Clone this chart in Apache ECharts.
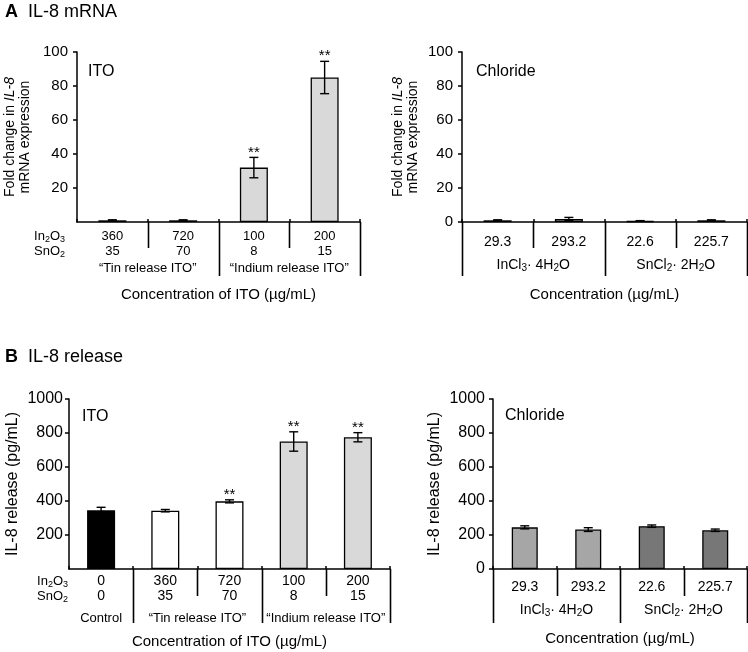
<!DOCTYPE html>
<html><head><meta charset="utf-8">
<script src="https://cdn.jsdelivr.net/npm/echarts@6/dist/echarts.min.js"></script>
<style>html,body{margin:0;padding:0;background:#fff}#c{width:748px;height:652px}</style>
</head><body><div id="c"></div>
<script>
// ---------------- data ----------------
// Panel A: IL-8 mRNA, ITO
const aItoIn2O3 = ['360', '720', '100', '200'];
const aItoSnO2  = ['35', '70', '8', '15'];
const aItoMean  = [1.0, 1.0, 32, 85];
const aItoErr   = [0.3, 0.3, 6, 9.5];
const aItoSig   = ['', '', '**', '**'];
const aItoKind  = ['tin', 'tin', 'indium', 'indium'];
const aItoGroups = [['“Tin release ITO”', 0, 1], ['“Indium release ITO”', 2, 3]];

// Panel A: IL-8 mRNA, Chloride
const aClConc  = ['29.3', '293.2', '22.6', '225.7'];
const aClMean  = [1.0, 1.8, 0.6, 1.0];
const aClErr   = [0.3, 0.9, 0.2, 0.3];
const aClSig   = ['', '', '', ''];
const aClKind  = ['incl', 'incl', 'sncl', 'sncl'];
const aClGroups = [['InCl{s|3}· 4H{s|2}O', 0, 1], ['SnCl{s|2}· 2H{s|2}O', 2, 3]];

// Panel B: IL-8 release, ITO
const bItoIn2O3 = ['0', '360', '720', '100', '200'];
const bItoSnO2  = ['0', '35', '70', '8', '15'];
const bItoMean  = [345, 343, 398, 750, 775];
const bItoErr   = [18, 7, 9, 57, 27];
const bItoSig   = ['', '', '**', '**', '**'];
const bItoKind  = ['control', 'tin', 'tin', 'indium', 'indium'];
const bItoGroups = [['Control', 0, 0], ['“Tin release ITO”', 1, 2], ['“Indium release ITO”', 3, 4]];

// Panel B: IL-8 release, Chloride
const bClConc  = ['29.3', '293.2', '22.6', '225.7'];
const bClMean  = [245, 232, 252, 228];
const bClErr   = [9, 11, 7, 7];
const bClSig   = ['', '', '', ''];
const bClKind  = ['incl', 'incl', 'sncl', 'sncl'];
const bClGroups = [['InCl{s|3}· 4H{s|2}O', 0, 1], ['SnCl{s|2}· 2H{s|2}O', 2, 3]];

// ---------------- styling / layout ----------------
const FONT = '"Liberation Sans", Arial, Helvetica, sans-serif';
const INK = '#000';
const colorOf = { control: '#000000', tin: '#ffffff', indium: '#d9d9d9', incl: '#a6a6a6', sncl: '#777777' };
const subRich = (fs) => ({
  n: { fontSize: fs, fontFamily: FONT, color: INK },
  s: { fontSize: Math.round(fs * 0.7), fontFamily: FONT, color: INK, padding: [7, 0, 0, 0] }
});

const panels = [
  { cats: aItoIn2O3.map((v, i) => v + '\n' + aItoSnO2[i]), mean: aItoMean, err: aItoErr, sig: aItoSig, kind: aItoKind, groups: aItoGroups,
    seps: [null, 's', 'l', 's', 'l'], sepS: 26, sepL: 54, groupDy: 46, groupFs: 13,
    grid: { left: 77, top: 52, width: 283, height: 170 }, yMax: 100, yInt: 20, showZero: false, tickFs: 15, tickMargin: 9,
    catFs: 13, catMargin: 7, barWidth: 28,
    yName: '{n|Fold change in }{i|IL-8}\n{n|mRNA expression}', yNameFs: 14, yNameGap: 44,
    xName: 'Concentration of ITO (µg/mL)', xNameGap: 65,
    inner: 'ITO', innerDx: 11, innerDy: 20, rowHead: { right: 65, dy1: 14, dy2: 29 } },
  { cats: aClConc, mean: aClMean, err: aClErr, sig: aClSig, kind: aClKind, groups: aClGroups,
    seps: ['l', 's', 'l', 's', 'l'], sepS: 26, sepL: 54, groupDy: 43, groupFs: 14,
    grid: { left: 462, top: 52, width: 285, height: 170 }, yMax: 100, yInt: 20, showZero: true, tickFs: 15, tickMargin: 9,
    catFs: 14, catMargin: 13, barWidth: 28,
    yName: '{n|Fold change in }{i|IL-8}\n{n|mRNA expression}', yNameFs: 14, yNameGap: 41,
    xName: 'Concentration (µg/mL)', xNameGap: 65,
    inner: 'Chloride', innerDx: 14, innerDy: 20, rowHead: null },
  { cats: bItoIn2O3.map((v, i) => v + '\n' + bItoSnO2[i]), mean: bItoMean, err: bItoErr, sig: bItoSig, kind: bItoKind, groups: bItoGroups,
    seps: [null, 'l', 's', 'l', 's', 'l'], sepS: 27, sepL: 54, groupDy: 49, groupFs: 13,
    grid: { left: 69, top: 399, width: 321, height: 170 }, yMax: 1000, yInt: 200, showZero: false, tickFs: 16, tickMargin: 6,
    catFs: 14, catMargin: 5, barWidth: 28,
    yName: 'IL-8 release (pg/mL)', yNameFs: 16, yNameGap: 49,
    xName: 'Concentration of ITO (µg/mL)', xNameGap: 65,
    inner: 'ITO', innerDx: 13, innerDy: 18, rowHead: { right: 68, dy1: 12, dy2: 27 } },
  { cats: bClConc, mean: bClMean, err: bClErr, sig: bClSig, kind: bClKind, groups: bClGroups,
    seps: ['l', 's', 'l', 's', 'l'], sepS: 27, sepL: 54, groupDy: 41, groupFs: 14,
    grid: { left: 493, top: 399, width: 254, height: 170 }, yMax: 1000, yInt: 200, showZero: true, tickFs: 16, tickMargin: 8,
    catFs: 14, catMargin: 11, barWidth: 26,
    yName: 'IL-8 release (pg/mL)', yNameFs: 16, yNameGap: 51,
    xName: 'Concentration (µg/mL)', xNameGap: 62,
    inner: 'Chloride', innerDx: 12, innerDy: 17, rowHead: null }
];

const panelTitles = [
  { letter: 'A', text: 'IL-8 mRNA', y: 12 },
  { letter: 'B', text: 'IL-8 release', y: 357 }
];

// ---------------- option ----------------
const chart = echarts.init(document.getElementById('c'), null, { renderer: 'canvas' });

const option = {
  animation: false,
  backgroundColor: '#fff',
  grid: panels.map(p => Object.assign({ containLabel: false }, p.grid)),
  xAxis: panels.map((p, i) => ({
    type: 'category', gridIndex: i, data: p.cats, boundaryGap: true,
    axisLine: { show: true, lineStyle: { color: INK, width: 1.5 } },
    axisTick: { show: true, inside: true, length: 3, interval: 0, alignWithLabel: false, lineStyle: { color: INK, width: 1.5 } },
    axisLabel: { show: true, interval: 0, margin: p.catMargin, color: INK, fontFamily: FONT, fontSize: p.catFs, lineHeight: 15 },
    name: p.xName, nameLocation: 'middle', nameGap: p.xNameGap,
    nameTextStyle: { color: INK, fontFamily: FONT, fontSize: 15 }
  })),
  yAxis: panels.map((p, i) => ({
    type: 'value', gridIndex: i, min: 0, max: p.yMax, interval: p.yInt,
    axisLine: { show: true, lineStyle: { color: INK, width: 1.5 } },
    axisTick: { show: true, inside: false, length: 4, lineStyle: { color: INK, width: 1.5 } },
    splitLine: { show: false },
    axisLabel: { color: INK, fontFamily: FONT, fontSize: p.tickFs, margin: p.tickMargin, showMinLabel: p.showZero,
      formatter: (v) => String(v) },
    name: p.yName, nameLocation: 'middle', nameRotate: 90, nameGap: p.yNameGap,
    nameTextStyle: {
      color: INK, fontFamily: FONT, fontSize: p.yNameFs, lineHeight: 15,
      rich: {
        n: { fontSize: p.yNameFs, fontFamily: FONT, color: INK, lineHeight: 15 },
        i: { fontSize: p.yNameFs, fontFamily: FONT, color: INK, fontStyle: 'italic', lineHeight: 15 }
      }
    }
  })),
  series: []
};

panels.forEach((p, i) => {
  option.series.push({
    type: 'bar', xAxisIndex: i, yAxisIndex: i, barWidth: p.barWidth, z: 2,
    data: p.mean.map((v, k) => ({ value: v, itemStyle: { color: colorOf[p.kind[k]], borderColor: INK, borderWidth: 1.3 } }))
  });
  option.series.push({
    type: 'custom', xAxisIndex: i, yAxisIndex: i, z: 5,
    data: p.mean.map((v, k) => [k, v - p.err[k], v + p.err[k]]),
    renderItem: (params, api) => {
      const k = api.value(0);
      const top = api.coord([k, api.value(2)]);
      const bot = api.coord([k, api.value(1)]);
      const hw = 4.5;
      const st = { stroke: INK, lineWidth: 1.4 };
      const children = [
        { type: 'line', shape: { x1: top[0], y1: top[1], x2: bot[0], y2: bot[1] }, style: st },
        { type: 'line', shape: { x1: top[0] - hw, y1: top[1], x2: top[0] + hw, y2: top[1] }, style: st },
        { type: 'line', shape: { x1: bot[0] - hw, y1: bot[1], x2: bot[0] + hw, y2: bot[1] }, style: st }
      ];
      const s = p.sig[params.dataIndex];
      if (s) {
        children.push({ type: 'text', x: top[0], y: top[1] - 5,
          style: { text: s, fill: INK, fontSize: 15, fontFamily: FONT, align: 'center', verticalAlign: 'middle' } });
      }
      return { type: 'group', children };
    }
  });
});

chart.setOption(option);

// ---------------- annotations placed via the axes ----------------
const graphics = [];
const lineStyle = { stroke: INK, lineWidth: 1.6 };
panels.forEach((p, gi) => {
  const c0 = chart.convertToPixel({ gridIndex: gi }, [0, 0]);
  const c1 = chart.convertToPixel({ gridIndex: gi }, [1, 0]);
  const bw = c1[0] - c0[0];
  const y0 = c0[1];
  const bound = (b) => c0[0] - bw / 2 + b * bw;
  // separators
  p.seps.forEach((t, b) => {
    if (!t) return;
    const x = Math.round(bound(b)) + 0.5;
    const len = t === 'l' ? p.sepL : p.sepS;
    graphics.push({ type: 'line', silent: true, shape: { x1: x, y1: y0, x2: x, y2: y0 + len }, style: lineStyle });
  });
  // group labels
  p.groups.forEach(([label, a, b]) => {
    const xc = (bound(a) + bound(b + 1)) / 2;
    graphics.push({ type: 'text', silent: true, x: xc, y: y0 + p.groupDy,
      style: { text: '{n|' + label.replace(/\{s\|(\d)\}/g, '}{s|$1}{n|') + '}', rich: subRich(p.groupFs), align: 'center', verticalAlign: 'middle' } });
  });
  // row headers
  if (p.rowHead) {
    graphics.push({ type: 'text', silent: true, x: p.rowHead.right, y: y0 + p.rowHead.dy1,
      style: { text: '{n|In}{s|2}{n|O}{s|3}', rich: subRich(13), align: 'right', verticalAlign: 'middle' } });
    graphics.push({ type: 'text', silent: true, x: p.rowHead.right, y: y0 + p.rowHead.dy2,
      style: { text: '{n|SnO}{s|2}', rich: subRich(13), align: 'right', verticalAlign: 'middle' } });
  }
  // inner label
  const topY = chart.convertToPixel({ gridIndex: gi }, [0, p.yMax])[1];
  graphics.push({ type: 'text', silent: true, x: p.grid.left + p.innerDx, y: topY + p.innerDy,
    style: { text: p.inner, fill: INK, fontSize: 16, fontFamily: FONT, align: 'left', verticalAlign: 'middle' } });
});
panelTitles.forEach(t => {
  graphics.push({ type: 'text', silent: true, x: 5, y: t.y,
    style: { text: '{b|' + t.letter + '}{n|  ' + t.text + '}', align: 'left', verticalAlign: 'middle',
      rich: { b: { fontSize: 18, fontWeight: 'bold', fontFamily: FONT, color: INK }, n: { fontSize: 18, fontFamily: FONT, color: INK } } } });
});
chart.setOption({ graphic: graphics });
</script>
</body></html>
